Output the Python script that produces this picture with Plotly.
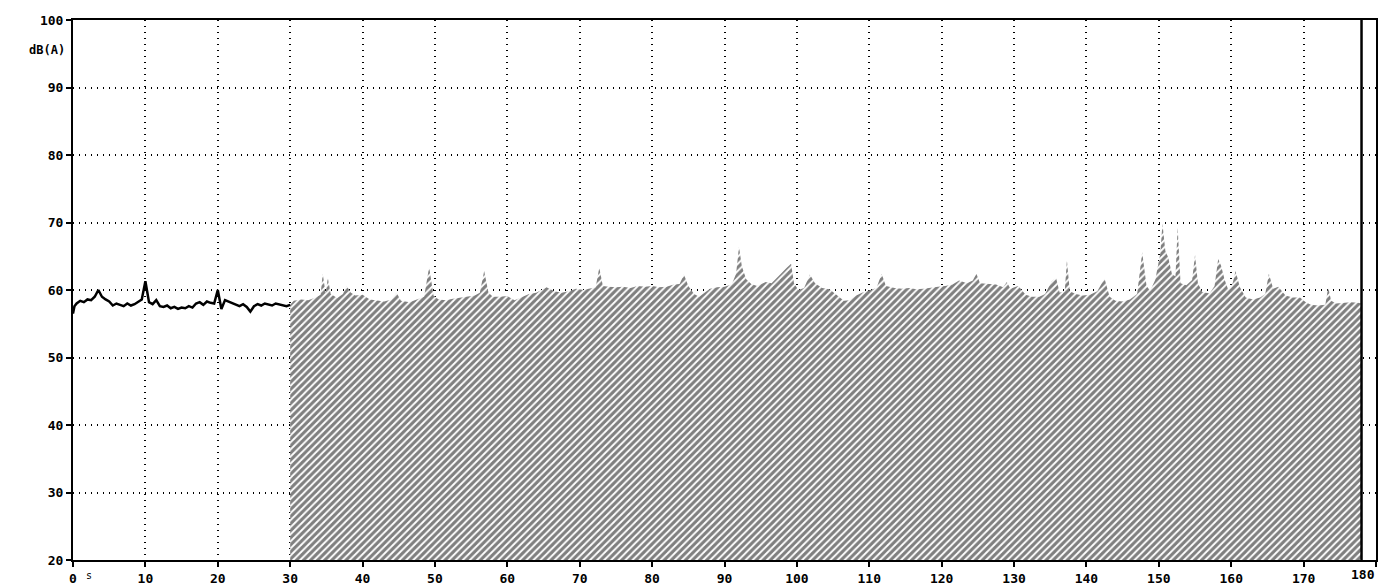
import plotly.graph_objects as go

# Level trace for the first 30 s (solid line), dB(A)
line_t = [0, 0.2, 0.5, 1, 1.5, 2, 2.5, 3, 3.5, 4, 4.5, 5, 5.5, 6, 6.5, 7, 7.5, 8, 8.5, 9, 9.5,
          10, 10.5, 11, 11.5, 12, 12.5, 13, 13.5, 14, 14.5, 15, 15.5, 16, 16.5, 17, 17.5, 18,
          18.5, 19, 19.5, 20, 20.5, 21, 21.5, 22, 22.5, 23, 23.5, 24, 24.5, 25, 25.5, 26, 26.5,
          27, 27.5, 28, 28.5, 29, 29.5, 30]
line_db = [56.5, 57.6, 58.0, 58.4, 58.2, 58.6, 58.5, 59.0, 60.0, 59.0, 58.6, 58.3, 57.7, 58.0,
           57.8, 57.6, 58.0, 57.7, 57.9, 58.2, 58.6, 61.3, 58.2, 57.9, 58.5, 57.6, 57.5, 57.7,
           57.3, 57.5, 57.2, 57.4, 57.3, 57.6, 57.4, 58.0, 58.2, 57.8, 58.3, 58.1, 58.0, 60.0,
           57.2, 58.5, 58.3, 58.0, 57.9, 57.6, 57.9, 57.5, 56.8, 57.6, 57.9, 57.7, 58.0, 57.8,
           57.7, 58.0, 57.9, 57.8, 57.6, 57.8]

# Level envelope for the hatched section, 30 s to 178 s, dB(A)
hatch_t = [30.0, 30.5, 31.5, 32.5, 33.5, 34.2, 34.5, 34.9, 35.2, 35.6, 36.5, 37.3, 37.8, 38.4,
           39.0, 40.0, 41.0, 42.0, 43.0, 44.0, 44.7, 45.3, 46.5, 47.5, 48.5, 49.2, 49.8, 50.5,
           51.5, 52.5, 53.5, 54.5, 55.5, 56.2, 56.8, 57.4, 58.0, 59.0, 60.0, 61.0, 62.0, 63.0,
           64.0, 65.4, 66.5, 67.5, 68.5, 69.5, 70.5, 71.5, 72.2, 72.7, 73.2, 74.0, 75.0, 76.0,
           77.0, 78.0, 79.0, 80.0, 81.0, 82.0, 83.0, 83.8, 84.4, 85.0, 85.8, 86.5, 87.2, 88.0,
           89.0, 90.0, 91.0, 91.6, 92.0, 92.4, 93.0, 93.7, 94.5, 95.7, 96.5, 97.0, 97.8, 98.5,
           99.2, 99.6, 100.2, 101.0, 101.8, 102.5, 103.5, 104.5, 105.5, 106.5, 107.3, 108.2,
           109.0, 110.0, 111.0, 111.7, 112.3, 113.5, 114.5, 115.5, 116.5, 117.5, 118.5, 119.5,
           120.5, 121.5, 122.4, 123.5, 124.3, 124.8, 125.3, 126.5, 127.5, 128.5, 129.0, 129.5,
           130.6, 131.6, 132.5, 133.5, 134.3, 135.2, 135.8, 136.3, 137.0, 137.3, 137.7, 138.5,
           139.5, 140.5, 141.5, 142.5, 143.2, 144.0, 145.0, 146.0, 147.0, 147.7, 148.3, 148.8,
           149.5, 150.2, 150.5, 150.9, 151.3, 151.8, 152.3, 152.6, 153.0, 153.8, 154.6, 155.0,
           155.4, 156.0, 157.0, 157.7, 158.2, 158.6, 159.1, 159.6, 160.2, 160.6, 161.2, 162.0,
           163.0, 164.0, 164.7, 165.2, 165.8, 166.5, 166.9, 167.5, 168.5, 169.5, 170.3, 171.0,
           172.0, 173.0, 173.4, 173.8, 174.5, 175.5, 176.5, 177.5, 178.0]
hatch_db = [57.8, 58.4, 58.6, 58.5, 58.9, 59.3, 62.4, 59.5, 61.8, 59.4, 58.8, 59.4, 60.6, 59.6,
            59.2, 59.3, 58.6, 58.4, 58.3, 58.6, 59.6, 58.4, 58.2, 58.6, 59.0, 63.4, 59.2, 58.6,
            58.5, 58.7, 58.9, 59.0, 59.2, 59.6, 62.8, 59.6, 59.0, 59.0, 59.1, 58.5, 58.9, 59.4,
            59.6, 60.4, 59.8, 59.6, 59.8, 60.2, 60.0, 60.3, 60.4, 63.3, 60.6, 60.5, 60.4, 60.5,
            60.3, 60.6, 60.5, 60.6, 60.4, 60.5, 60.8, 60.9, 62.3, 60.6, 59.4, 59.0, 59.6, 60.2,
            60.4, 60.5, 60.8, 62.4, 66.4, 63.5, 61.6, 60.9, 60.6, 61.2, 61.0, 61.6, 62.4, 63.2,
            63.9, 61.0, 60.0, 60.3, 62.3, 61.0, 60.3, 60.1, 59.2, 58.4, 58.5, 59.2,
            59.6, 60.0, 60.3, 62.4, 60.6, 60.3, 60.2, 60.3, 60.1, 60.2, 60.4, 60.5,
            60.6, 60.8, 61.4, 61.0, 61.4, 62.4, 61.0, 60.9, 60.8, 60.4, 61.2, 60.2,
            60.6, 59.3, 59.0, 59.0, 59.4, 61.3, 61.8, 59.6, 59.8, 64.4, 59.8, 59.4,
            59.2, 59.3, 59.8, 61.7, 59.0, 58.4, 58.3, 58.6, 59.4, 65.6, 60.6, 59.9,
            61.5, 65.4, 69.8, 65.8, 64.8, 62.4, 62.0, 69.3, 61.0, 60.7, 61.5, 65.2,
            61.0, 59.7, 59.5, 60.6, 64.6, 63.6, 61.5, 60.0, 61.0, 62.8, 60.4, 58.9,
            58.6, 58.9, 59.4, 62.4, 60.2, 60.5, 60.0, 59.2, 58.9, 58.9, 58.2, 57.8,
            57.7, 57.8, 60.4, 58.4, 58.0, 58.1, 58.2, 58.1, 58.0]

# Cursor position at the end of the record
cursor_t = 178.0

x_ticks = list(range(0, 190, 10))
x_text = ["0"] + [str(v) for v in x_ticks[1:-1]] + [""]
last_tick = x_ticks[-1]
y_ticks = list(range(20, 110, 10))

tick_font = dict(family="DejaVu Sans Mono", size=13, color="black", weight="bold")

fig = go.Figure()

fig.add_trace(go.Scatter(
    x=hatch_t, y=hatch_db, mode="lines", fill="tozeroy",
    line=dict(color="rgba(0,0,0,0)", width=0),
    fillcolor="white",
    fillpattern=dict(shape="/", fgcolor="black", bgcolor="white", size=5, solidity=0.62),
    hoverinfo="skip", showlegend=False,
))

fig.add_trace(go.Scatter(
    x=line_t, y=line_db, mode="lines",
    line=dict(color="black", width=2.5),
    showlegend=False,
))

fig.add_trace(go.Scatter(
    x=[cursor_t, cursor_t], y=[20, 100], mode="lines",
    line=dict(color="black", width=2.5),
    showlegend=False, hoverinfo="skip",
))

grid_dash = "1px,5px"

fig.update_xaxes(
    range=[0, 180], tickvals=x_ticks, ticktext=x_text,
    showline=True, linecolor="black", linewidth=2, mirror=True,
    ticks="outside", ticklen=5, tickwidth=1.5, tickcolor="black",
    showgrid=True, gridcolor="black", gridwidth=1.5, griddash=grid_dash,
    zeroline=False, tickfont=tick_font,
)
fig.update_yaxes(
    range=[20, 100], tickvals=y_ticks,
    showline=True, linecolor="black", linewidth=2, mirror=True,
    ticks="outside", ticklen=5, tickwidth=1.5, tickcolor="black",
    showgrid=True, gridcolor="black", gridwidth=1.5, griddash=grid_dash,
    zeroline=False, tickfont=tick_font,
)

# Last x tick label sits inside the frame edge
fig.add_annotation(
    x=last_tick, y=20, xref="x", yref="y", text=str(last_tick), showarrow=False,
    xanchor="right", yanchor="top", xshift=1, yshift=-5, font=tick_font,
)
fig.add_annotation(
    x=0, y=100, xref="x", yref="y", text="dB(A)", showarrow=False,
    xanchor="right", yanchor="middle", xshift=-6, yshift=-30,
    font=dict(family="DejaVu Sans Mono", size=12, color="black", weight="bold"),
)
fig.add_annotation(
    x=0, y=20, xref="x", yref="y", text="s", showarrow=False,
    xanchor="left", yanchor="top", xshift=11, yshift=-8,
    font=dict(family="DejaVu Sans Mono", size=10, color="black"),
)

fig.update_layout(
    width=1379, height=587,
    margin=dict(l=73, r=1, t=20, b=19),
    paper_bgcolor="white", plot_bgcolor="white",
    showlegend=False,
)

fig.write_html("out.html")
